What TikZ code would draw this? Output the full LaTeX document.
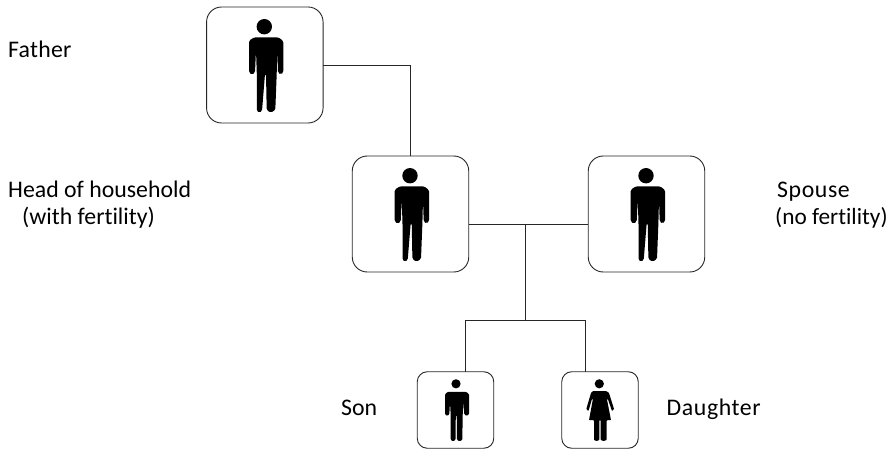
\documentclass[tikz,border=0pt]{standalone}
\usepackage{fontspec}
\setmainfont{Carlito}[Ligatures=NoCommon]
\tikzset{
  bigbox/.style={draw=black!85,line width=0.9pt,rounded corners=15pt,minimum width=116.5pt,minimum height=116pt,inner sep=0pt,outer sep=0pt},
  smallbox/.style={draw=black!85,line width=0.9pt,rounded corners=10pt,minimum width=76.5pt,minimum height=76.5pt,inner sep=0pt,outer sep=0pt},
  wire/.style={draw=black!85,line width=0.8pt},
  lab/.style={anchor=base west,inner sep=0pt,font=\fontsize{23.8}{26}\selectfont},
  man/.pic={
    \fill[black] (-0.5,-38.3) circle (7.7);
    \fill[black,rounded corners=1.5pt] (-10.5,-27.7) -- (-15.8,-24.3) -- (-15.8,7.5) -- (-12.8,9.7) -- (-9.8,7.5) -- (-8.8,-15) -- (-8,9) -- (-8,46) -- (-5.5,47.7) -- (-2.8,46) -- (0.2,9) -- (1.2,9) -- (1.9,45) -- (5.9,47.7) -- (10.5,45) -- (11.9,9) -- (12.5,-15) -- (13.2,7.5) -- (15.9,9.7) -- (18.5,7.5) -- (18.5,-24) -- (13.5,-27.7) -- cycle;
  },
  boy/.pic={
    \fill[black] (0.5,-26.2) circle (4.6);
    \fill[black,rounded corners=1pt] (-7.5,-18.2) -- (-10.5,-16) -- (-10.5,4.5) -- (-8.4,5.8) -- (-6.2,4.5) -- (-5.5,-8) -- (-4.8,5) -- (-4.8,30) -- (-2.4,31.2) -- (0,30) -- (0.3,5) -- (1.2,5) -- (1.5,30) -- (4.2,31.2) -- (6.8,30) -- (7.2,5) -- (7.8,-8) -- (8.8,4.5) -- (11.2,5.8) -- (13.5,4.5) -- (13.5,-16) -- (10.5,-18.2) -- cycle;
  },
  girl/.pic={
    \fill[black] (-0.7,-26.2) circle (4.6);
    \fill[black,rounded corners=0.6pt] (-7.3,-18.8) -- (6.7,-18.8) -- (9,-17) -- (14,-1) -- (12,1) -- (8,-10.5) -- (6.8,-11.5) -- (11,10.2) -- (6.7,10.2) -- (6.7,30) -- (3.7,31) -- (0.7,30) -- (0.7,10.2) -- (-0.7,10.2) -- (-0.7,30) -- (-3.4,31) -- (-6,30) -- (-6,10.2) -- (-11,10.2) -- (-7,-11.5) -- (-8.2,-10.5) -- (-11.5,1) -- (-13.7,-1) -- (-9,-17) -- cycle;
  }
}
\begin{document}
\begin{tikzpicture}[x=1pt,y=-1pt]
\useasboundingbox (0,0) rectangle (888,449);
\node[bigbox] (father) at (264.8,65) {};
\node[bigbox] (head) at (410.5,214) {};
\node[bigbox] (spouse) at (646.5,214) {};
\node[smallbox] (son) at (455.5,410) {};
\node[smallbox] (daughter) at (600,410) {};
\pic at (father) {man};
\pic at (head) {man};
\pic at (spouse) {man};
\pic at (son) {boy};
\pic at (daughter) {girl};
\coordinate (junction) at (525.5,224);
\coordinate (fork) at (525.5,320);
\coordinate (forkleft) at (465.5,320);
\coordinate (forkright) at (585.5,320);
\draw[wire] (father.east) -| (head.north);
\draw[wire] (head.east |- junction) -- (spouse.west |- junction);
\draw[wire] (junction) -- (fork);
\draw[wire] (son.north -| forkleft) -- (forkleft) -- (forkright) -- (daughter.north -| forkright);
\node[lab] (lfather) at (8,57.5) {\addfontfeatures{LetterSpace=1}Father};
\node[lab] (lhead) at (8,197.5) {Head of household};
\node[lab] (lwith) at (22,224.5) {(with fertility)};
\node[lab] (lspouse) at (777,197.5) {\addfontfeatures{LetterSpace=2.5}Spouse};
\node[lab,font=\fontsize{23.3}{26}\selectfont] (lno) at (775,224.5) {(no fertility)};
\node[lab] (lson) at (341,415) {Son};
\node[lab] (ldaughter) at (666.5,415) {\addfontfeatures{LetterSpace=2.5}Daughter};
\end{tikzpicture}
\end{document}
